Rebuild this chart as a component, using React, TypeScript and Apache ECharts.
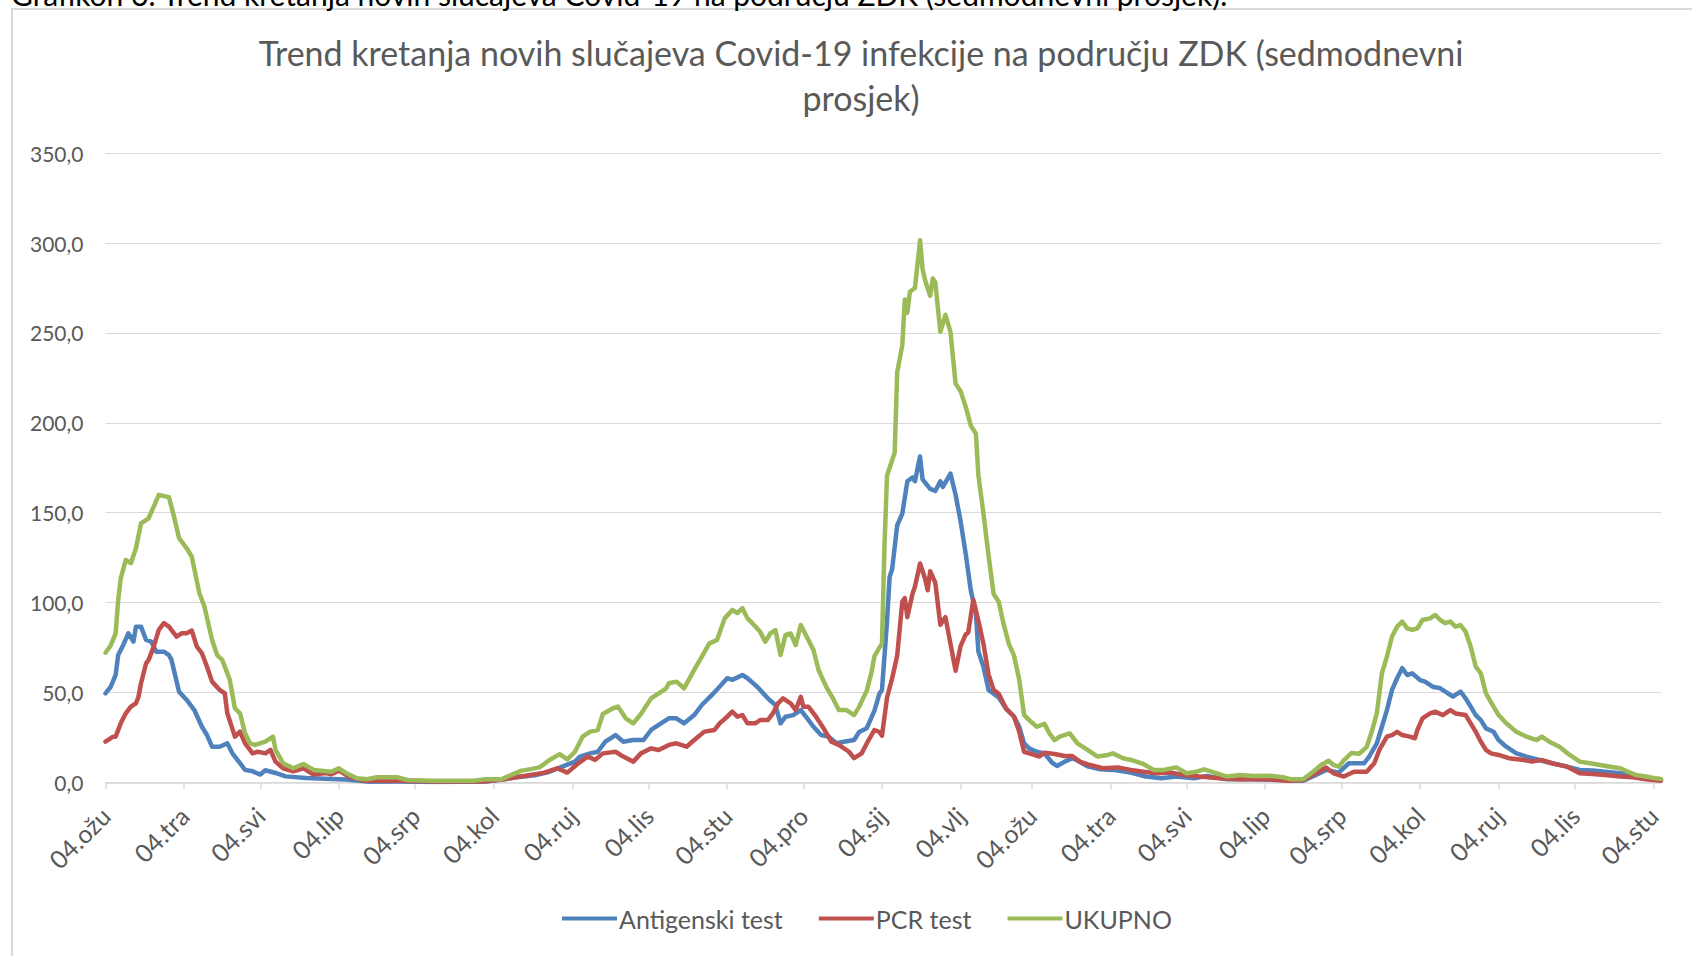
import React, { useEffect, useRef } from "react";
import * as echarts from "echarts";

// Day offsets are counted from 04.03.2021 (index into the daily category axis).
const START_UTC = Date.UTC(2021, 2, 4);
const DAY_COUNT = 614;
const MONTHS = ["sij", "vlj", "ožu", "tra", "svi", "lip", "srp", "kol", "ruj", "lis", "stu", "pro"];
const Y_TICKS = [0, 50, 100, 150, 200, 250, 300, 350];

const TITLE = "Trend kretanja novih slučajeva Covid-19 infekcije na području ZDK (sedmodnevni\nprosjek)";
const DOC_CAPTION = "Grafikon 6. Trend kretanja novih slučajeva Covid-19 na području ZDK (sedmodnevni prosjek).";
const SERIES_NAMES = ["Antigenski test", "PCR test", "UKUPNO"];

const antigenski: [number, number][] = [
  [0, 49.5], [2, 53], [4, 59.7], [5, 70.8], [7, 76.4], [9, 82.9], [11, 78.3], [12, 86.6], [14, 86.6], [16, 79.2],
  [18, 78.3], [20, 72.7], [23, 72.7], [25, 70.8], [26, 68.1], [29, 50.4], [32, 45.8], [35, 40.2], [38, 30.9], [40, 26.3],
  [42, 19.8], [45, 19.8], [48, 21.7], [50, 16.1], [53, 10.6], [55, 6.9], [58, 6.1], [61, 4.3], [63, 6.7], [67, 5.2],
  [71, 3.3], [79, 2.4], [89, 1.9], [95, 1.5], [104, 0.3], [115, 0.4], [130, 0.2], [150, 0.4], [157, 1.7], [162, 2.8],
  [170, 4.1], [175, 5.9], [180, 8.7], [185, 11.5], [187, 14.3], [191, 16.1], [194, 17], [197, 22.6], [201, 26.3], [204, 22.6],
  [208, 23.5], [212, 23.5], [215, 29.1], [218, 31.9], [222, 35.6], [225, 35.6], [228, 32.8], [232, 37.4], [235, 43], [239, 48.6],
  [242, 53.2], [245, 57.9], [247, 57], [251, 59.7], [253, 57.9], [256, 54.2], [258, 51.4], [261, 46.7], [264, 43], [266, 32.8],
  [268, 36.5], [271, 37.4], [274, 40.2], [276, 36.5], [279, 30.9], [282, 26.3], [285, 25.4], [288, 21.7], [291, 22.6], [295, 23.5],
  [297, 28], [300, 30.1], [303, 39.7], [305, 49.3], [306, 51.4], [308, 89.7], [309, 114.2], [310, 118.5], [312, 143], [314, 149.4],
  [316, 167.5], [318, 169.6], [319, 167.5], [321, 181.3], [322, 168.5], [325, 163.2], [327, 162.1], [329, 167.5], [330, 164.3], [333, 171.7],
  [335, 160], [337, 145.1], [339, 127], [341, 106.8], [343, 94], [344, 72.7], [346, 64.2], [348, 51.4], [350, 49.3], [352, 47.2],
  [355, 40.8], [358, 36.6], [360, 31.2], [362, 21.7], [364, 18.9], [367, 17], [370, 16.1], [373, 11], [375, 9.1], [378, 11.5],
  [381, 13.4], [383, 12.1], [387, 8.9], [392, 7.2], [397, 6.9], [404, 5.4], [410, 3.2], [416, 2.2], [422, 3.2], [429, 2.2],
  [434, 3.5], [442, 1.7], [452, 1.7], [464, 1.3], [472, 0.9], [477, 4.1], [481, 6.9], [486, 5.4], [490, 10.6], [496, 10.6],
  [498, 14.3], [501, 21.7], [503, 30.9], [505, 40.2], [507, 51.4], [509, 57.9], [511, 63.5], [513, 59.7], [515, 60.6], [518, 56.9],
  [520, 56], [523, 53.2], [526, 52.3], [528, 50.5], [531, 47.7], [534, 50.5], [536, 46.7], [538, 42.1], [540, 37.4], [542, 34.6],
  [544, 30], [547, 28.1], [549, 23.5], [552, 19.8], [556, 16.1], [560, 14.3], [565, 12.4], [570, 10.6], [576, 8.7], [581, 6.9],
  [586, 6.5], [591, 5.9], [597, 5], [602, 4.1], [607, 2.2], [613, 1.3],
];

const pcr: [number, number][] = [
  [0, 22.6], [3, 25.4], [4, 25.4], [6, 32.8], [8, 38.4], [10, 42.1], [12, 43.9], [13, 47.6], [14, 55.1], [16, 66.2],
  [17, 68.1], [19, 75.5], [21, 84.8], [23, 88.5], [25, 86.6], [28, 81], [30, 82.9], [32, 82.9], [34, 84.4], [36, 75.5],
  [38, 71.8], [40, 64.3], [42, 56], [45, 51.4], [47, 49.5], [48, 38.4], [51, 25.4], [53, 28.2], [55, 21.7], [58, 16.1],
  [60, 17], [63, 16.1], [65, 18], [67, 11.5], [70, 7.8], [74, 6.1], [78, 7.8], [82, 4.3], [87, 5.2], [89, 4.5],
  [92, 6.5], [96, 3], [102, 0.9], [115, 0.9], [130, 0.5], [149, 0.4], [157, 1.7], [165, 3.5], [173, 5.4], [178, 7.8],
  [182, 5.4], [186, 10.2], [190, 14.3], [193, 12.5], [196, 16.1], [201, 17], [204, 14.3], [208, 11.5], [211, 16.1], [215, 18.9],
  [218, 18], [222, 20.8], [225, 21.7], [229, 19.8], [232, 23.5], [236, 28.2], [240, 29.1], [242, 32.8], [245, 36.5], [247, 39.3],
  [249, 36.5], [251, 37.4], [253, 32.8], [256, 32.8], [258, 34.6], [261, 34.6], [263, 38.3], [265, 43.9], [267, 46.7], [270, 43.9],
  [272, 40.2], [274, 47.6], [275, 42.1], [277, 42.1], [280, 36.5], [283, 30], [286, 22.6], [289, 20.8], [293, 17], [295, 13.4],
  [298, 16.1], [300, 21.6], [303, 29.1], [305, 28], [306, 25.9], [308, 47.2], [310, 57.8], [312, 70.6], [314, 100.4], [315, 102.5],
  [316, 91.9], [318, 104.7], [319, 108.9], [321, 121.7], [323, 113.2], [324, 106.8], [325, 117.4], [327, 111.1], [329, 87.7], [331, 91.9],
  [333, 77], [335, 62.1], [337, 75.9], [339, 82.3], [340, 83.4], [342, 101.5], [344, 89.8], [346, 77], [348, 60], [350, 51.4],
  [352, 49.3], [355, 40.8], [358, 36.6], [360, 28.5], [362, 17], [366, 15.2], [368, 14.3], [370, 16.5], [374, 15.7], [378, 14.6],
  [381, 14.6], [384, 11.5], [388, 9.6], [393, 7.8], [399, 8.3], [404, 6.9], [409, 5.9], [414, 5], [420, 5.4], [425, 4.1],
  [431, 3.2], [439, 2.2], [447, 1.7], [458, 1.7], [466, 0.9], [472, 1.3], [477, 5], [481, 8.2], [484, 5], [488, 3.2],
  [492, 5.9], [497, 5.9], [500, 10.6], [502, 18], [505, 25.4], [507, 26.3], [509, 28.1], [511, 26.3], [514, 25.4], [516, 24.5],
  [517, 29.1], [519, 35.6], [522, 38.3], [524, 39.3], [527, 37.4], [530, 40.2], [532, 38.3], [536, 37.4], [538, 32.8], [540, 28.1],
  [542, 22.6], [544, 18], [546, 16.1], [549, 15.2], [553, 13.4], [559, 12.4], [562, 11.5], [566, 12.4], [570, 10.6], [576, 8.7],
  [581, 5], [586, 4.6], [591, 4.1], [597, 3.2], [602, 2.8], [607, 1.7], [613, 0.8],
];

const ukupno: [number, number][] = [
  [0, 72.1], [2, 76], [4, 82.9], [5, 101.4], [6, 113.5], [8, 123.7], [10, 121.9], [12, 130.2], [14, 144.1], [17, 146.9],
  [19, 153.4], [21, 159.9], [25, 158.6], [27, 147.8], [29, 135.8], [32, 130.2], [34, 125.5], [37, 105.2], [39, 97.7], [42, 79.2],
  [44, 70.8], [46, 68.1], [49, 56.9], [51, 41.2], [53, 38.4], [55, 27.3], [57, 21.7], [59, 20.8], [63, 22.6], [66, 25.4],
  [67, 18], [70, 10.6], [74, 7.8], [78, 10.2], [82, 6.9], [87, 6.1], [89, 5.9], [92, 7.8], [95, 5], [99, 2.2],
  [103, 1.7], [107, 2.8], [115, 2.8], [119, 1.3], [128, 0.9], [145, 0.9], [150, 1.7], [156, 1.7], [160, 4.1], [164, 6.5],
  [167, 7.2], [171, 8.3], [175, 12.4], [179, 15.7], [182, 12.8], [185, 17], [188, 25.4], [191, 28.2], [194, 29.1], [196, 38],
  [200, 41.2], [202, 42.1], [205, 35.6], [208, 32.8], [211, 38], [215, 46.7], [218, 49.5], [221, 52.3], [222, 55.1], [225, 56],
  [228, 52.3], [232, 62.5], [235, 69.9], [238, 77.3], [241, 79.2], [244, 91.2], [247, 95.9], [249, 94.1], [251, 96.9], [253, 91.2],
  [255, 88.4], [258, 83.7], [260, 78.2], [262, 82.8], [264, 84.7], [266, 70.8], [268, 82], [270, 82.8], [272, 76.4], [274, 87.5],
  [276, 82], [279, 73.6], [281, 62.5], [284, 53.2], [287, 45.8], [289, 40.2], [292, 40.2], [295, 37.4], [297, 42], [300, 51],
  [302, 62], [303, 70], [305, 75], [306, 77], [307, 132.4], [308, 170.7], [310, 179.2], [311, 183.4], [312, 228.2], [314, 243.1],
  [315, 268.6], [316, 261.2], [317, 272.9], [319, 275], [321, 301.6], [322, 285.6], [323, 279.2], [325, 270.7], [326, 280.3], [327, 278.2],
  [329, 250.6], [331, 260.1], [333, 250.6], [335, 221.8], [337, 217.5], [339, 209], [341, 198.4], [343, 194.1], [344, 170.7], [346, 149.4],
  [348, 126], [350, 104.7], [352, 100.4], [354, 87.7], [356, 77], [358, 70.6], [360, 57.8], [362, 37.5], [364, 34.6], [367, 30.9],
  [370, 32.5], [372, 27.2], [374, 23.5], [376, 25.4], [380, 27.2], [383, 21.7], [387, 18], [391, 14.3], [395, 15.2], [397, 16.1],
  [401, 13.4], [405, 12.1], [409, 10.2], [413, 6.9], [417, 6.9], [422, 8.3], [426, 5], [430, 5.9], [433, 7.2], [438, 5],
  [442, 3.2], [447, 4.1], [452, 3.5], [459, 3.7], [464, 2.8], [467, 1.7], [472, 1.7], [476, 6], [479, 9.6], [482, 12],
  [484, 9.6], [486, 8.7], [488, 12.2], [491, 16.3], [494, 15.9], [497, 19.6], [499, 28.1], [501, 38.3], [503, 60.6], [505, 70],
  [507, 81.1], [509, 86.6], [511, 89.4], [513, 85.7], [515, 84.8], [517, 85.7], [519, 90.3], [522, 91.2], [524, 93.1], [526, 90.3],
  [528, 88.5], [530, 89.4], [532, 86.6], [534, 87.5], [536, 83.8], [538, 75.5], [540, 64.3], [542, 60.6], [544, 49.5], [547, 42.1],
  [549, 37.4], [552, 32.8], [556, 28.1], [560, 25.4], [564, 23.5], [566, 25.4], [569, 22.6], [573, 19.8], [577, 15.2], [581, 11.5],
  [585, 10.6], [589, 9.6], [593, 8.7], [597, 7.8], [600, 5.9], [603, 4.1], [607, 3.2], [611, 2.2], [613, 1.8],
];

const COLORS = ["#4F81BD", "#C0504D", "#9BBB59"];
const FONT = "Lato, 'Open Sans', sans-serif";
const TEXT_COLOR = "#595959";

function buildCategories(): string[] {
  const out: string[] = [];
  for (let i = 0; i < DAY_COUNT; i++) {
    const d = new Date(START_UTC + i * 86400000);
    const y = d.getUTCFullYear();
    const m = String(d.getUTCMonth() + 1).padStart(2, "0");
    const dd = String(d.getUTCDate()).padStart(2, "0");
    out.push(`${y}-${m}-${dd}`);
  }
  return out;
}

function formatCategory(v: string): string {
  const parts = v.split("-");
  return `${parts[2]}.${MONTHS[parseInt(parts[1], 10) - 1]}`;
}

export default function App() {
  const ref = useRef<HTMLDivElement>(null);

  useEffect(() => {
    if (!ref.current) return;
    const chart = echarts.init(ref.current, null, { renderer: "svg" });
    const categories = buildCategories();
    const isTickDay = (_i: number, v: string) => v.endsWith("-04");
    const seriesData = [antigenski, pcr, ukupno];

    chart.setOption({
      animation: false,
      backgroundColor: "#ffffff",
      textStyle: { fontFamily: FONT },
      graphic: [
        {
          type: "rect",
          z: -10,
          silent: true,
          shape: { x: 12, y: 9, width: 1720, height: 1000 },
          style: { fill: "none", stroke: "#d9d9d9", lineWidth: 2 },
        },
        {
          type: "text",
          x: 11,
          y: 9,
          silent: true,
          style: {
            text: DOC_CAPTION,
            fill: "#000000",
            font: `30px ${FONT}`,
            textAlign: "left",
            textVerticalAlign: "bottom",
          },
        },
        {
          type: "text",
          x: 861,
          y: 30,
          silent: true,
          style: {
            text: TITLE,
            fill: TEXT_COLOR,
            font: `34px ${FONT}`,
            lineHeight: 45,
            textAlign: "center",
            textVerticalAlign: "top",
          },
        },
      ],
      legend: {
        data: SERIES_NAMES,
        left: 562,
        top: 906,
        padding: 0,
        icon: "rect",
        itemWidth: 55,
        itemHeight: 4,
        itemGap: 36,
        textStyle: { fontSize: 25, color: TEXT_COLOR, fontFamily: FONT, padding: [0, 0, 0, -3] },
      },
      grid: { left: 105.5, right: 31, top: 153.2, bottom: 173.7, containLabel: false },
      xAxis: {
        type: "category",
        data: categories,
        boundaryGap: false,
        axisLine: { show: true, lineStyle: { color: "#d9d9d9", width: 1.5 } },
        axisTick: { show: true, interval: isTickDay, length: 7, lineStyle: { color: "#d9d9d9", width: 1.5 } },
        axisLabel: {
          interval: isTickDay,
          rotate: 45,
          margin: 29,
          fontSize: 25,
          color: TEXT_COLOR,
          fontFamily: FONT,
          formatter: (v: string) => formatCategory(v),
        },
        splitLine: { show: false },
      },
      yAxis: {
        type: "value",
        min: Y_TICKS[0],
        max: Y_TICKS[Y_TICKS.length - 1],
        interval: 50,
        axisLine: { show: false },
        axisTick: { show: false },
        splitLine: { show: true, lineStyle: { color: "#d9d9d9", width: 1.2 } },
        axisLabel: {
          margin: 22,
          fontSize: 21,
          color: TEXT_COLOR,
          fontFamily: FONT,
          formatter: (v: number) => v.toFixed(1).replace(".", ","),
        },
      },
      series: SERIES_NAMES.map((name, i) => ({
        name,
        type: "line",
        data: seriesData[i],
        showSymbol: false,
        symbol: "none",
        smooth: false,
        color: COLORS[i],
        lineStyle: { width: 4.5, color: COLORS[i], join: "round", cap: "round" },
        emphasis: { disabled: true },
      })),
    });

    return () => chart.dispose();
  }, []);

  return (
    <div
      ref={ref}
      style={{ position: "fixed", left: 0, top: 0, width: 1692, height: 956, background: "#fff" }}
    />
  );
}
